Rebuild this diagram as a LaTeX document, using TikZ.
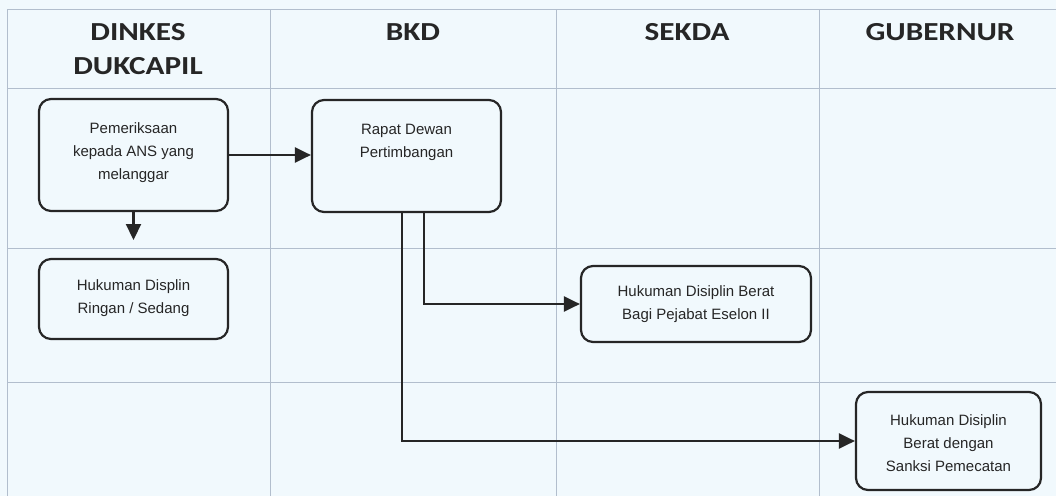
\documentclass[tikz,border=0pt]{standalone}
\usepackage{fontspec}
\setmainfont{Liberation Sans}
\newfontfamily\hdrfont{Carlito}
\usetikzlibrary{arrows.meta,calc}
\definecolor{bgblue}{RGB}{241,249,253}
\definecolor{gridc}{RGB}{178,190,205}
\definecolor{inkc}{RGB}{38,38,38}
\begin{document}
\begin{tikzpicture}[x=1pt,y=-1pt,
  gridline/.style={draw=gridc,line width=0.7pt},
  hdr/.style={anchor=base,inner sep=0pt,font=\hdrfont\bfseries\fontsize{26}{30}\selectfont,text=inkc},
  box/.style={draw=inkc,line width=2.2pt,rounded corners=12pt,fill=bgblue,inner sep=0pt},
  btext/.style={align=center,font=\fontsize{15}{22.8}\selectfont,text=inkc,inner sep=0pt,anchor=base},
  arr/.style={draw=inkc,line width=2.2pt,-{Triangle[length=16pt,width=15pt]}}]
\useasboundingbox (0,0) rectangle (1056,496);
\fill[bgblue] (0,0) rectangle (1056,496);
% grid
\draw[gridline] (7,9) -- (1056,9);
\draw[gridline] (7,88) -- (1056,88);
\draw[gridline] (7,248) -- (1056,248);
\draw[gridline] (7,382) -- (1056,382);
\draw[gridline] (7,9) -- (7,496);
\draw[gridline] (270,9) -- (270,496);
\draw[gridline] (556,9) -- (556,496);
\draw[gridline] (819,9) -- (819,496);
% headers
\node[hdr] (h1a) at (138,40) {\scalebox{1.2}[1]{DINKES}};
\node[hdr] (h1b) at (138,74.5) {\scalebox{1.2}[1]{DUKCAPIL}};
\node[hdr] (h2) at (413,40) {\scalebox{1.2}[1]{BKD}};
\node[hdr] (h3) at (687,40) {\scalebox{1.2}[1]{SEKDA}};
\node[hdr] (h4) at (940,40) {\scalebox{1.2}[1]{GUBERNUR}};
% boxes
\node[box,minimum width=189pt,minimum height=112pt] (b1) at (133.5,155) {};
\node[btext] (t1) at (133.5,179) {Pemeriksaan\\kepada ANS yang\\melanggar};
\node[box,minimum width=189pt,minimum height=112pt] (b2) at (406.5,156) {};
\node[btext] (t2) at (406.5,157) {Rapat Dewan\\Pertimbangan};
\node[box,minimum width=189pt,minimum height=80pt] (b3) at (133.5,299) {};
\node[btext] (t3) at (133.5,313) {Hukuman Displin\\Ringan / Sedang};
\node[box,minimum width=230pt,minimum height=76pt] (b4) at (696,304) {};
\node[btext] (t4) at (696,319) {Hukuman Disiplin Berat\\Bagi Pejabat Eselon II};
\node[box,minimum width=185pt,minimum height=98pt] (b5) at (948.5,441) {};
\node[btext] (t5) at (948.5,471) {Hukuman Disiplin\\Berat dengan\\Sanksi Pemecatan};
% connector helpers
\coordinate (a2end) at (133.5,240);
\coordinate (a3x) at (424,0);
\coordinate (a4x) at (402,0);
% connectors
\draw[arr] (b1.east) -- (b1.east -| b2.west);
\draw[arr] (b1.south) -- (a2end);
\draw[arr] (b2.south -| a3x) |- (b4.west);
\draw[arr] (b2.south -| a4x) |- (b5.west);
\end{tikzpicture}
\end{document}
